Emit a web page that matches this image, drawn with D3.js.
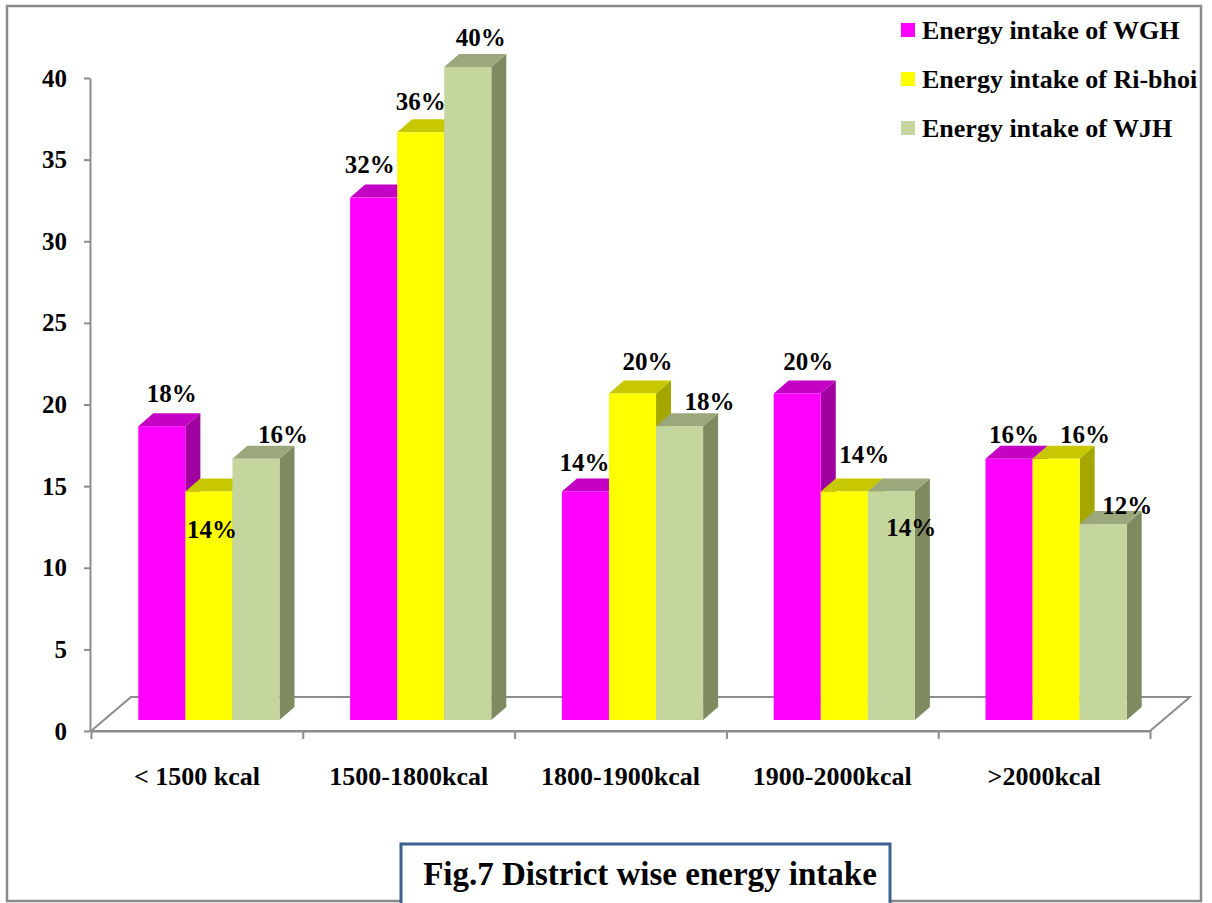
<!DOCTYPE html>
<html>
<head>
<meta charset="utf-8">
<script src="https://cdn.jsdelivr.net/npm/d3@7"></script>
<style>
  html, body { margin: 0; padding: 0; background: #fff; }
  svg { display: block; }
  text { font-family: "Liberation Serif", "Times New Roman", serif; font-weight: bold; fill: #000; }
</style>
</head>
<body>
<svg id="chart" width="1212" height="903"></svg>
<script>
// Share of respondents (%) by daily energy intake band, per district
const categories = ["< 1500 kcal", "1500-1800kcal", "1800-1900kcal", "1900-2000kcal", ">2000kcal"];
const seriesNames = ["Energy intake of WGH", "Energy intake of Ri-bhoi", "Energy intake of WJH"];
const wghValues = [18, 32, 14, 20, 16];
const riBhoiValues = [14, 36, 20, 14, 16];
const wjhValues = [16, 40, 18, 14, 12];
const yTickValues = [0, 5, 10, 15, 20, 25, 30, 35, 40];
const captionText = "Fig.7 District wise energy intake";

const seriesValues = [wghValues, riBhoiValues, wjhValues];

// face colours per series: front, top, side
const palette = [
  { front: "#ff00ff", top: "#c400c4", side: "#a0009f" },
  { front: "#ffff00", top: "#c8c800", side: "#a6a600" },
  { front: "#c4d69e", top: "#9ba87b", side: "#7e8a60" }
];

// label placement relative to the top-centre of each bar's front face
const labelNudge = [
  [[10, -33], [-4, -33], [-1, -29], [11, -32], [5, -24]],
  [[3, 38], [0, -31], [15, -32], [20, -37], [29, -24]],
  [[27, -24], [13, -30], [30, -25], [20, 36], [24, -19]]
];

const svg = d3.select("#chart");
const axisColor = "#8c8c8c";

// outer frame
svg.append("rect")
  .attr("x", 7).attr("y", 6).attr("width", 1194).attr("height", 895)
  .attr("fill", "none").attr("stroke", "#8a8a8a").attr("stroke-width", 2.5);

// geometry
const left = 91, right = 1150, axisY = 731, topY = 78;
const floorDx = 40, floorDy = -34;
const barDx = 15, barDy = -13;
const barBase = 720;

const x = d3.scaleBand().domain(categories).range([left, right]).paddingInner(0).paddingOuter(0);
const xs = d3.scaleBand().domain(d3.range(seriesNames.length)).range([0, x.bandwidth()]).paddingInner(0).paddingOuter(0.75);
const y = d3.scaleLinear().domain([0, 40]).range([axisY, topY]);
// bars stand slightly back on the floor
const yBar = d3.scaleLinear().domain([0, 40]).range([barBase, barBase - (axisY - topY)]);
const barShift = 12;

// floor
svg.append("path")
  .attr("d", `M${left},${axisY} L${right},${axisY} L${right + floorDx},${axisY + floorDy} L${left + floorDx},${axisY + floorDy} Z`)
  .attr("fill", "none").attr("stroke", axisColor).attr("stroke-width", 2);

// y axis
const yAxis = svg.append("g")
  .attr("transform", `translate(${left - 1},0)`)
  .call(d3.axisLeft(y).tickValues(yTickValues).tickSize(6).tickSizeOuter(0).tickPadding(17));
yAxis.select(".domain").attr("stroke", axisColor).attr("stroke-width", 2);
yAxis.selectAll(".tick line").attr("stroke", axisColor).attr("stroke-width", 2);
yAxis.selectAll(".tick text")
  .attr("font-size", 25).attr("font-family", null).attr("fill", "#000");

// x axis: boundary ticks
const xEdge = d3.scaleLinear().domain([0, categories.length]).range([left, right]);
const xAxis = svg.append("g")
  .attr("transform", `translate(0,${axisY})`)
  .call(d3.axisBottom(xEdge).tickValues(d3.range(categories.length + 1)).tickSize(8).tickSizeOuter(0).tickFormat(""));
xAxis.select(".domain").attr("stroke", axisColor).attr("stroke-width", 2);
xAxis.selectAll(".tick line").attr("stroke", axisColor).attr("stroke-width", 2);

// category labels
const xLabels = svg.append("g")
  .attr("transform", `translate(0,${axisY})`)
  .call(d3.axisBottom(x).tickSize(0).tickPadding(0));
xLabels.select(".domain").remove();
xLabels.selectAll(".tick text")
  .attr("y", 54).attr("dy", 0)
  .attr("font-size", 26).attr("font-family", null).attr("fill", "#000");

// 3D bars, drawn left to right so right-hand sides are overlapped correctly
const bars = svg.append("g");
categories.forEach((cat, ci) => {
  seriesValues.forEach((vals, si) => {
    const v = vals[ci];
    const x0 = x(cat) + xs(si) + barShift;
    const x1 = x0 + xs.bandwidth();
    const yt = yBar(v);
    const c = palette[si];
    const g = bars.append("g");
    g.append("path") // side
      .attr("d", `M${x1},${barBase} L${x1 + barDx},${barBase + barDy} L${x1 + barDx},${yt + barDy} L${x1},${yt} Z`)
      .attr("fill", c.side);
    g.append("path") // top
      .attr("d", `M${x0},${yt} L${x0 + barDx},${yt + barDy} L${x1 + barDx},${yt + barDy} L${x1},${yt} Z`)
      .attr("fill", c.top);
    g.append("rect") // front
      .attr("x", x0).attr("y", yt).attr("width", x1 - x0).attr("height", barBase - yt)
      .attr("fill", c.front);
  });
});

// value labels
const labels = svg.append("g");
categories.forEach((cat, ci) => {
  seriesValues.forEach((vals, si) => {
    const v = vals[ci];
    const cx = x(cat) + xs(si) + barShift + xs.bandwidth() / 2;
    const nudge = labelNudge[si][ci];
    labels.append("text")
      .attr("x", cx + nudge[0]).attr("y", yBar(v) + nudge[1])
      .attr("text-anchor", "middle").attr("dominant-baseline", "central")
      .attr("font-size", 25)
      .text(v + "%");
  });
});

// legend
const legend = svg.append("g").attr("transform", "translate(901,30)");
seriesNames.forEach((name, i) => {
  const row = legend.append("g").attr("transform", `translate(0,${i * 49})`);
  row.append("rect").attr("x", 0).attr("y", -7).attr("width", 14).attr("height", 14)
    .attr("fill", palette[i].front);
  row.append("text").attr("x", 21).attr("y", 8.5).attr("font-size", 26).text(name);
});

// caption box
svg.append("rect")
  .attr("x", 401).attr("y", 844).attr("width", 489).attr("height", 72)
  .attr("fill", "#fff").attr("stroke", "#3d6191").attr("stroke-width", 3);
svg.append("text")
  .attr("x", 650).attr("y", 885).attr("text-anchor", "middle")
  .attr("font-size", 33).text(captionText);
</script>
</body>
</html>
